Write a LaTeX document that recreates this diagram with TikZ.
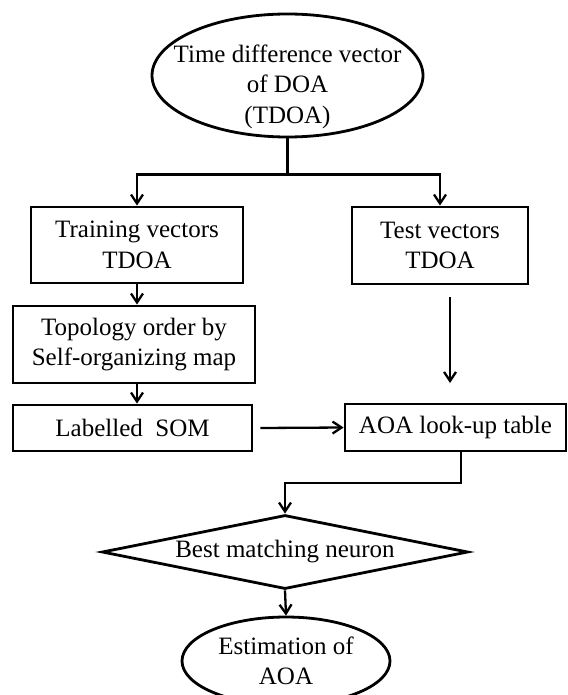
\documentclass[tikz,border=0pt]{standalone}
\usepackage{fontspec}
\setmainfont{Liberation Serif}
\usetikzlibrary{shapes.geometric,arrows.meta,calc}

\begin{document}
\begin{tikzpicture}[x=1pt,y=-1pt,
  every node/.style={font=\fontsize{25}{30.5}\selectfont, align=center, inner sep=0pt},
  boxnode/.style={draw, rectangle, line width=2.8pt},
  ovalnode/.style={draw, ellipse, line width=2.8pt},
  decide/.style={draw, diamond, line width=2.8pt, aspect=4.95},
  flow/.style={line width=2.3pt, -{Straight Barb[length=9pt,width=12pt]}},
  link/.style={line width=2.3pt}]
\useasboundingbox (0,0) rectangle (567,695);

% shapes
\node[ovalnode, minimum width=271pt, minimum height=123pt] (src) at (287.5,75.5) {};
\node (srctext) at ($(src.center)+(0,11)$) {Time difference vector\\of DOA\\(TDOA)};
\node[boxnode, minimum width=212pt, minimum height=76pt] (train) at (137,245) {Training vectors\\TDOA};
\node[boxnode, minimum width=176pt, minimum height=77pt] (test) at (440,245.5) {Test vectors\\TDOA};
\node[boxnode, minimum width=242pt, minimum height=77pt] (topo) at (134,344.5) {Topology order by\\Self-organizing map};
\node[boxnode, minimum width=239pt, minimum height=46pt] (som) at (132.5,428) {Labelled\ \ SOM};
\node[boxnode, minimum width=221pt, minimum height=47pt] (aoa) at (455.5,427.5) {AOA look-up table};
\node[decide, minimum width=366pt, minimum height=74pt] (bmn) at (285,552) {Best matching neuron};
\node[ovalnode, minimum width=208pt, minimum height=88pt] (est) at (286,661) {Estimation of\\AOA};

% helper points
\coordinate (split) at ($(src.south)+(0,36)$);
\coordinate (gapA) at (450,297);
\coordinate (gapB) at (450,383);
\coordinate (bend) at (461,483);

% connectors
\draw[link] (src.south) -- (split);
\draw[flow] (split) -| (train.north);
\draw[flow] (split) -| (test.north);
\draw[flow] (train.south) -- (train.south |- topo.north);
\draw[flow] (topo.south -| train.south) -- (train.south |- som.north);
\draw[flow] (gapA) -- (gapB);
\draw[flow] ($(som.east)+(7,0)$) -- (aoa.west);
\draw[flow] (aoa.south -| bend) -- (bend) -| (bmn.north);
\draw[flow] (bmn.south) -- (est.north);
\end{tikzpicture}
\end{document}
